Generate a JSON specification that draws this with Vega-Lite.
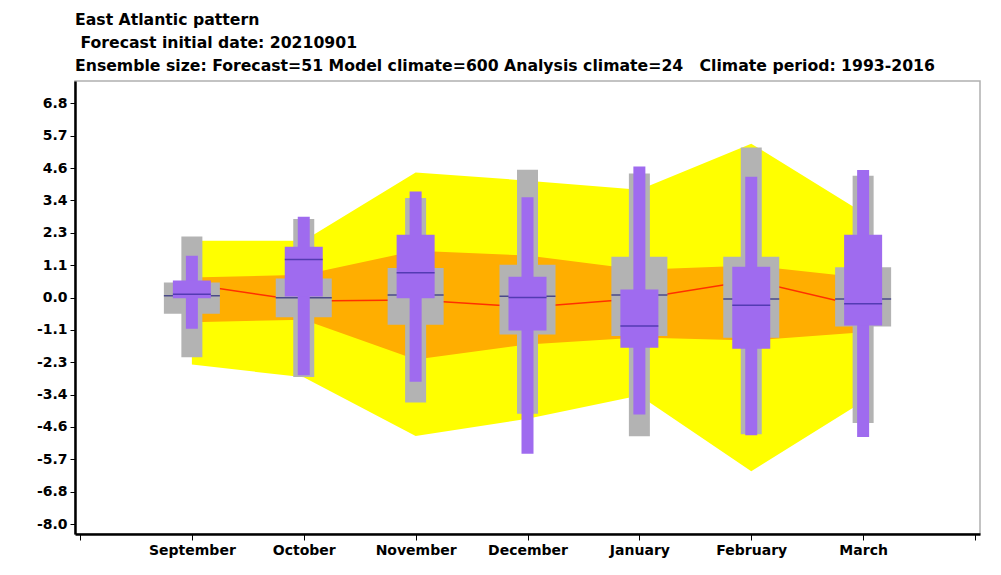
{
  "$schema": "https://vega.github.io/schema/vega-lite/v6.json",
  "autosize": {"type": "none"},
  "width": 905,
  "height": 453,
  "padding": {"left": 75, "top": 81, "right": 21, "bottom": 41},
  "background": "white",
  "config": {
    "view": {"stroke": "#b0b0b0", "strokeWidth": 1.5},
    "font": "DejaVu Sans"
  },
  "title": {
    "text": ["East Atlantic pattern", "\u200b\u00a0Forecast initial date: 20210901", "Ensemble size: Forecast=51 Model climate=600 Analysis climate=24\u00a0\u00a0\u00a0Climate period: 1993-2016"],
    "anchor": "start",
    "frame": "group",
    "font": "DejaVu Sans",
    "fontSize": 15.7,
    "fontWeight": "bold",
    "color": "black",
    "lineHeight": 23,
    "offset": 6
  },
  "data": {
    "values": [
      {"m": 1, "month": "September", "yl": -2.36, "yh": 2.00, "ol": -0.87, "oh": 0.71, "red": 0.46, "gwl": -2.10, "gwh": 2.15, "gbl": -0.57, "gbh": 0.53, "gmed": 0.06, "pwl": -1.10, "pwh": 1.47, "pbl": -0.02, "pbh": 0.60, "pmed": 0.12},
      {"m": 2, "month": "October", "yl": -2.81, "yh": 2.00, "ol": -0.78, "oh": 0.80, "red": -0.12, "gwl": -2.80, "gwh": 2.77, "gbl": -0.69, "gbh": 0.67, "gmed": -0.01, "pwl": -2.74, "pwh": 2.85, "pbl": 0.04, "pbh": 1.79, "pmed": 1.34},
      {"m": 3, "month": "November", "yl": -4.88, "yh": 4.41, "ol": -2.18, "oh": 1.65, "red": -0.09, "gwl": -3.70, "gwh": 3.51, "gbl": -0.96, "gbh": 1.04, "gmed": 0.09, "pwl": -2.97, "pwh": 3.74, "pbl": -0.02, "pbh": 2.21, "pmed": 0.87},
      {"m": 4, "month": "December", "yl": -4.27, "yh": 4.12, "ol": -1.65, "oh": 1.48, "red": -0.34, "gwl": -4.09, "gwh": 4.50, "gbl": -1.30, "gbh": 1.16, "gmed": 0.05, "pwl": -5.50, "pwh": 3.53, "pbl": -1.16, "pbh": 0.73, "pmed": 0.0},
      {"m": 5, "month": "January", "yl": -3.45, "yh": 3.80, "ol": -1.41, "oh": 0.98, "red": -0.03, "gwl": -4.89, "gwh": 4.37, "gbl": -1.35, "gbh": 1.44, "gmed": 0.09, "pwl": -4.12, "pwh": 4.62, "pbl": -1.77, "pbh": 0.28, "pmed": -1.00},
      {"m": 6, "month": "February", "yl": -6.12, "yh": 5.42, "ol": -1.51, "oh": 1.13, "red": 0.60, "gwl": -4.82, "gwh": 5.29, "gbl": -1.42, "gbh": 1.44, "gmed": -0.05, "pwl": -4.85, "pwh": 4.26, "pbl": -1.80, "pbh": 1.09, "pmed": -0.27},
      {"m": 7, "month": "March", "yl": -3.66, "yh": 2.99, "ol": -1.22, "oh": 0.70, "red": -0.32, "gwl": -4.42, "gwh": 4.29, "gbl": -1.02, "gbh": 1.07, "gmed": -0.05, "pwl": -4.91, "pwh": 4.49, "pbl": -0.98, "pbh": 2.21, "pmed": -0.22}
    ]
  },
  "encoding": {
    "x": {
      "field": "m", "type": "quantitative",
      "scale": {"domain": [0, 8], "nice": false, "zero": false},
      "axis": {
        "title": null, "grid": false,
        "values": [0, 1, 2, 3, 4, 5, 6, 7, 8],
        "tickCount": 20,
        "labelExpr": "datum.value >= 1 && datum.value <= 7 ? ['September','October','November','December','January','February','March'][datum.value - 1] : ''",
        "domainColor": "black", "domainWidth": 2.5,
        "tickColor": "black", "tickSize": 6, "tickWidth": 1,
        "labelFont": "DejaVu Sans", "labelFontSize": 14, "labelFontWeight": "bold", "labelColor": "black",
        "labelPadding": 3, "labelFlush": false, "labelOverlap": false
      }
    }
  },
  "layer": [
    {
      "mark": {"type": "area", "color": "#ffff00", "opacity": 1},
      "encoding": {
        "y": {"field": "yl", "type": "quantitative",
          "scale": {"domain": [-8.33, 7.63], "nice": false, "zero": false},
          "axis": {
            "title": null, "grid": false,
            "values": [-7.98, -6.84, -5.7, -4.56, -3.42, -2.28, -1.14, 0, 1.14, 2.28, 3.42, 4.56, 5.7, 6.84],
            "tickCount": 30,
            "labelExpr": "replace(format(datum.value, '.1f'), '\u2212', '-')",
            "domainColor": "black", "domainWidth": 2.5,
            "tickColor": "black", "tickSize": 5, "tickWidth": 1,
            "labelFont": "DejaVu Sans", "labelFontSize": 14, "labelFontWeight": "bold", "labelColor": "black",
            "labelPadding": 3, "labelOverlap": false, "labelFlush": false
          }
        },
        "y2": {"field": "yh"}
      }
    },
    {
      "mark": {"type": "area", "color": "#ffae00", "opacity": 1},
      "encoding": {"y": {"field": "ol", "type": "quantitative"}, "y2": {"field": "oh"}}
    },
    {
      "mark": {"type": "line", "color": "#ff3000", "strokeWidth": 1.5},
      "encoding": {"y": {"field": "red", "type": "quantitative"}}
    },
    {
      "mark": {"type": "bar", "color": "#b3b3b3", "width": 21},
      "encoding": {"y": {"field": "gwl", "type": "quantitative"}, "y2": {"field": "gwh"}}
    },
    {
      "mark": {"type": "bar", "color": "#b3b3b3", "width": 56},
      "encoding": {"y": {"field": "gbl", "type": "quantitative"}, "y2": {"field": "gbh"}}
    },
    {
      "mark": {"type": "tick", "orient": "horizontal", "color": "#1e1e78", "size": 56, "thickness": 1.5},
      "encoding": {"y": {"field": "gmed", "type": "quantitative"}}
    },
    {
      "mark": {"type": "bar", "color": "#9f6bef", "width": 12},
      "encoding": {"y": {"field": "pwl", "type": "quantitative"}, "y2": {"field": "pwh"}}
    },
    {
      "mark": {"type": "bar", "color": "#9f6bef", "width": 38},
      "encoding": {"y": {"field": "pbl", "type": "quantitative"}, "y2": {"field": "pbh"}}
    },
    {
      "mark": {"type": "tick", "orient": "horizontal", "color": "#33269a", "size": 38, "thickness": 1.5},
      "encoding": {"y": {"field": "pmed", "type": "quantitative"}}
    }
  ]
}
